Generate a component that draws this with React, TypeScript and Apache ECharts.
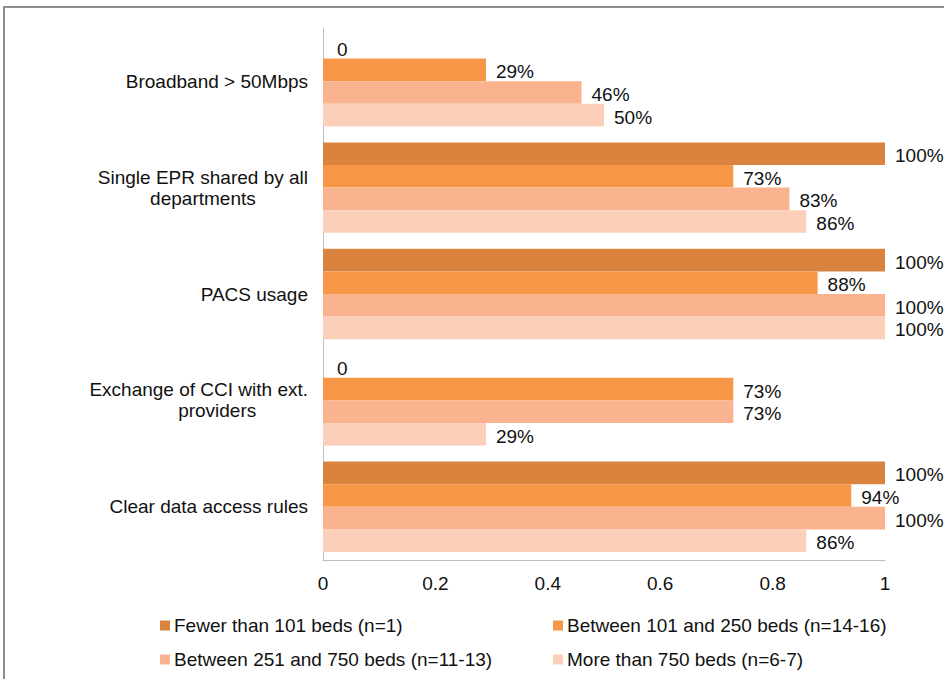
import React, { useEffect, useRef } from "react";
import * as echarts from "echarts";

const categories = [
  "Broadband > 50Mbps",
  "Single EPR shared by all\ndepartments",
  "PACS usage",
  "Exchange of CCI with ext.\nproviders",
  "Clear data access rules",
];
const seriesNames = [
  "Fewer than 101 beds (n=1)",
  "Between 101 and 250 beds (n=14-16)",
  "Between 251 and 750 beds (n=11-13)",
  "More than 750 beds (n=6-7)",
];
const fewer101 = [0, 1, 1, 0, 1];
const between101_250 = [0.29, 0.73, 0.88, 0.73, 0.94];
const between251_750 = [0.46, 0.83, 1, 0.73, 1];
const moreThan750 = [0.5, 0.86, 1, 0.29, 0.86];
const xTicks = [0, 0.2, 0.4, 0.6, 0.8, 1];

const colors = ["#D9833F", "#F79646", "#F9B48F", "#FCCFB9"];
const FONT = "Liberation Sans, Arial, sans-serif";
const FS = 19;
const TXT = "#111111";

export default function App() {
  const ref = useRef<HTMLDivElement>(null);
  useEffect(() => {
    if (!ref.current) return;
    const chart = echarts.init(ref.current, undefined, { renderer: "svg" });
    const data = [fewer101, between101_250, between251_750, moreThan750];
    const legendPos = [
      { left: 160, top: 616 },
      { left: 553, top: 616 },
      { left: 160, top: 650 },
      { left: 553, top: 650 },
    ];
    chart.setOption({
      animation: false,
      color: colors,
      textStyle: { fontFamily: FONT },
      grid: { left: 323, right: 59, top: 28, bottom: 119, containLabel: false },
      xAxis: {
        type: "value",
        min: 0,
        max: 1,
        interval: 0.2,
        axisLine: { show: true, lineStyle: { color: "#BFBFBF", width: 1 } },
        axisTick: { show: false },
        splitLine: { show: false },
        axisLabel: {
          fontSize: FS,
          color: TXT,
          fontFamily: FONT,
          margin: 14,
          formatter: (v: number) => {
            const t = xTicks.find((x) => Math.abs(x - v) < 1e-9);
            return t === undefined ? "" : String(t);
          },
        },
      },
      yAxis: {
        type: "category",
        data: categories,
        inverse: true,
        axisLine: { show: true, lineStyle: { color: "#BFBFBF", width: 1 } },
        axisTick: { show: false },
        axisLabel: {
          fontSize: FS,
          color: TXT,
          fontFamily: FONT,
          margin: 15,
          lineHeight: 21,
          formatter: (v: string) =>
            v
              .split("\n")
              .map((l) => (l === "providers" ? `{p|${l}}` : `{c|${l}}`))
              .join("\n"),
          rich: {
            c: { align: "center", fontSize: FS, fontFamily: FONT, color: TXT, lineHeight: 21 },
            p: {
              align: "center",
              fontSize: FS,
              fontFamily: FONT,
              color: TXT,
              lineHeight: 21,
              padding: [0, 0, 0, 37],
            },
          },
        },
      },
      legend: seriesNames.map((n, i) => ({
        data: [n],
        left: legendPos[i].left,
        top: legendPos[i].top,
        icon: "rect",
        itemWidth: 10,
        itemHeight: 10,
        itemGap: 0,
        padding: 0,
        textStyle: { fontSize: FS, color: TXT, fontFamily: FONT, padding: [0, 0, 0, -1] },
      })),
      series: seriesNames.map((n, i) => ({
        name: n,
        type: "bar",
        data: data[i].map((v) => (v === 0 ? { value: v, label: { distance: 14 } } : v)),
        barGap: "0%",
        barCategoryGap: "15%",
        itemStyle: { color: colors[i] },
        label: {
          show: true,
          position: "right",
          distance: 10,
          offset: [0, 2],
          fontSize: FS,
          color: TXT,
          fontFamily: FONT,
          formatter: (p: any) => (p.value === 0 ? "0" : Math.round(p.value * 100) + "%"),
        },
      })),
      graphic: [
        {
          type: "rect",
          shape: { x: 4, y: 7, width: 1200, height: 1200 },
          style: { fill: "none", stroke: "#8C8C8C", lineWidth: 2 },
          silent: true,
        },
      ],
    });
    return () => chart.dispose();
  }, []);
  return (
    <div
      ref={ref}
      style={{ position: "fixed", left: 0, top: 0, width: 944, height: 679, background: "#fff" }}
    />
  );
}
